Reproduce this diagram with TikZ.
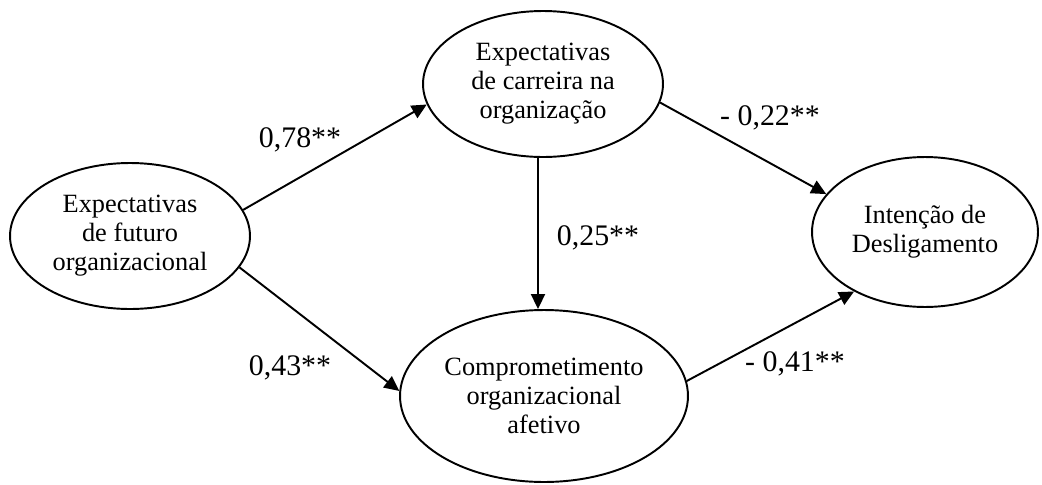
\documentclass[tikz,border=0pt]{standalone}
\usepackage{fontspec}
\setmainfont{Liberation Serif}
\usetikzlibrary{shapes.geometric,arrows.meta}
\begin{document}
\begin{tikzpicture}[x=0.02cm, y=-0.02cm,
        construct/.style = {shape=ellipse, draw, line width=1.1pt,
        align=center, inner sep=0pt, font=\fontsize{15}{16.5}\selectfont},
        link/.style = {draw, line width=1.1pt,
        -{Triangle[length=0.3cm, width=0.28cm]}},
        coef/.style = {font=\fontsize{17}{19}\selectfont}]
    \useasboundingbox (0,0) rectangle (1042,484);
    \node[construct, minimum width=4.8cm, minimum height=2.92cm] (futuro) at (130,236)
        {Expectativas\\ de futuro\\ organizacional};
    \node[construct, minimum width=4.8cm, minimum height=2.92cm] (carreira) at (543,84)
        {Expectativas\\ de carreira na\\ organização};
    \node[construct, minimum width=5.76cm, minimum height=3.44cm] (afetivo) at (544,396)
        {Comprometimento\\ organizacional\\ afetivo};
    \node[construct, minimum width=4.52cm, minimum height=3.0cm] (intencao) at (925,232)
        {Intenção de\\ Desligamento};
    \draw[link] (futuro.13) -- (carreira.190);
    \draw[link] (futuro.-16) -- (afetivo.178);
    \draw[link] ([xshift=-0.1cm]carreira.south) -- ([xshift=-0.12cm]afetivo.north);
    \draw[link] (carreira.-9) -- (intencao.159);
    \draw[link] (afetivo.6) -- (intencao.220);
    \node[coef] (b1) at (300,140) {0,78**};
    \node[coef] (b2) at (290,368) {0,43**};
    \node[coef] (b3) at (598,238) {0,25**};
    \node[coef] (b4) at (770,118) {- 0,22**};
    \node[coef] (b5) at (795,364) {- 0,41**};
\end{tikzpicture}
\end{document}
